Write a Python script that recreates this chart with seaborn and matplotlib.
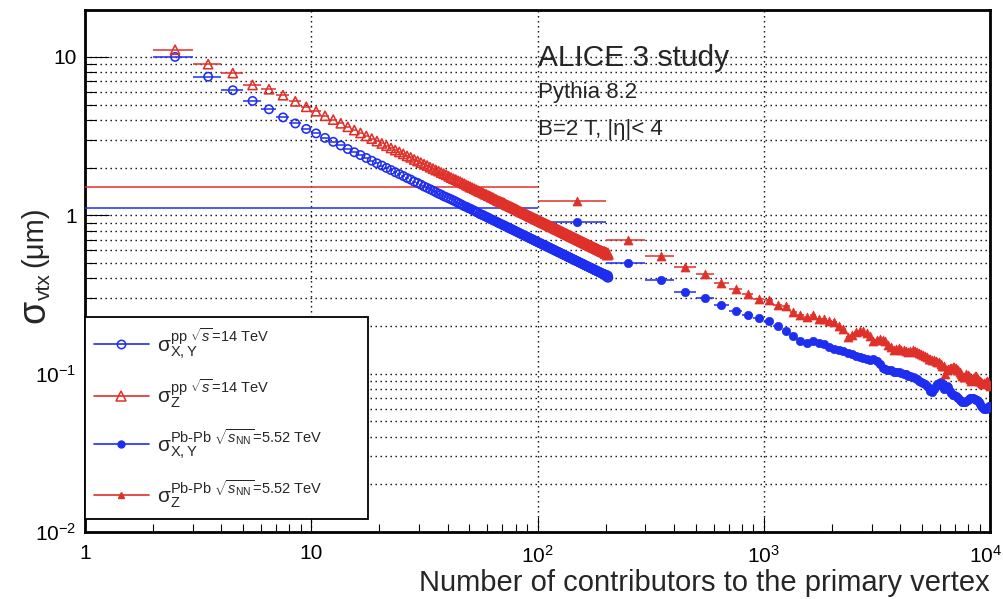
import numpy as np
import pandas as pd
import seaborn as sns
import matplotlib
matplotlib.use("Agg")
import matplotlib.pyplot as plt
import matplotlib.transforms as mtransforms
from matplotlib.lines import Line2D
from matplotlib.ticker import LogLocator, NullFormatter, FixedLocator, FixedFormatter

# ---------------------------------------------------------------- data
# pp: one bin per number of contributors, lower edges 2 ... 205 (width 1)
pp_bin_low = list(range(2, 206))
pp_sigma_xy = [
    10.0, 7.50, 6.16, 5.27, 4.67, 4.15, 3.80, 3.51, 3.29, 3.08,
    2.91, 2.76, 2.62, 2.50, 2.40, 2.30, 2.21, 2.13, 2.06, 1.99,
    1.93, 1.87, 1.82, 1.77, 1.72, 1.68, 1.63, 1.60, 1.56, 1.52,
    1.49, 1.46, 1.43, 1.40, 1.37, 1.35, 1.32, 1.30, 1.28, 1.26,
    1.24, 1.22, 1.20, 1.18, 1.16, 1.14, 1.13, 1.11, 1.10, 1.08,
    1.07, 1.05, 1.04, 1.02, 1.01, 1.00, 0.987, 0.976, 0.965, 0.953,
    0.942, 0.932, 0.922, 0.912, 0.902, 0.893, 0.884, 0.875, 0.867, 0.859,
    0.850, 0.842, 0.834, 0.826, 0.819, 0.811, 0.804, 0.797, 0.790, 0.783,
    0.776, 0.770, 0.763, 0.757, 0.751, 0.745, 0.739, 0.733, 0.728, 0.722,
    0.716, 0.711, 0.706, 0.701, 0.695, 0.690, 0.686, 0.681, 0.676, 0.671,
    0.667, 0.662, 0.658, 0.654, 0.649, 0.645, 0.641, 0.637, 0.633, 0.629,
    0.625, 0.621, 0.618, 0.614, 0.610, 0.607, 0.603, 0.599, 0.596, 0.592,
    0.589, 0.586, 0.583, 0.579, 0.576, 0.573, 0.570, 0.567, 0.563, 0.560,
    0.558, 0.555, 0.552, 0.549, 0.546, 0.543, 0.541, 0.538, 0.535, 0.532,
    0.530, 0.527, 0.525, 0.522, 0.520, 0.517, 0.515, 0.512, 0.510, 0.508,
    0.505, 0.503, 0.501, 0.499, 0.496, 0.494, 0.492, 0.490, 0.487, 0.485,
    0.483, 0.481, 0.479, 0.477, 0.475, 0.473, 0.471, 0.469, 0.467, 0.465,
    0.464, 0.462, 0.460, 0.458, 0.456, 0.454, 0.453, 0.451, 0.449, 0.447,
    0.446, 0.444, 0.442, 0.441, 0.439, 0.437, 0.436, 0.434, 0.432, 0.431,
    0.429, 0.428, 0.426, 0.425, 0.426, 0.422, 0.420, 0.414, 0.417, 0.420,
    0.414, 0.405, 0.416, 0.404,
]
pp_sigma_z = [
    11.1, 9.00, 7.90, 6.65, 6.25, 5.73, 5.24, 4.84, 4.54, 4.25,
    4.02, 3.81, 3.62, 3.45, 3.31, 3.17, 3.05, 2.94, 2.84, 2.75,
    2.66, 2.58, 2.51, 2.44, 2.37, 2.32, 2.25, 2.20, 2.15, 2.10,
    2.06, 2.01, 1.97, 1.93, 1.90, 1.86, 1.83, 1.80, 1.76, 1.73,
    1.70, 1.68, 1.65, 1.63, 1.60, 1.58, 1.55, 1.53, 1.51, 1.49,
    1.47, 1.45, 1.43, 1.41, 1.40, 1.38, 1.36, 1.35, 1.33, 1.32,
    1.30, 1.29, 1.27, 1.26, 1.24, 1.23, 1.22, 1.21, 1.20, 1.19,
    1.17, 1.16, 1.15, 1.14, 1.13, 1.12, 1.11, 1.10, 1.09, 1.08,
    1.07, 1.06, 1.05, 1.045, 1.036, 1.028, 1.020, 1.012, 1.005, 0.996,
    0.988, 0.981, 0.974, 0.967, 0.959, 0.952, 0.947, 0.940, 0.933, 0.926,
    0.920, 0.914, 0.908, 0.903, 0.896, 0.890, 0.885, 0.879, 0.874, 0.868,
    0.863, 0.857, 0.853, 0.847, 0.842, 0.838, 0.832, 0.827, 0.822, 0.817,
    0.813, 0.809, 0.805, 0.799, 0.795, 0.791, 0.787, 0.782, 0.777, 0.773,
    0.770, 0.766, 0.762, 0.758, 0.753, 0.749, 0.747, 0.742, 0.738, 0.734,
    0.731, 0.727, 0.725, 0.720, 0.718, 0.713, 0.711, 0.707, 0.704, 0.701,
    0.697, 0.694, 0.691, 0.689, 0.684, 0.682, 0.679, 0.676, 0.672, 0.669,
    0.667, 0.664, 0.661, 0.658, 0.656, 0.653, 0.650, 0.647, 0.644, 0.642,
    0.640, 0.638, 0.635, 0.632, 0.629, 0.627, 0.625, 0.622, 0.620, 0.617,
    0.615, 0.613, 0.610, 0.609, 0.606, 0.603, 0.602, 0.599, 0.596, 0.595,
    0.592, 0.591, 0.588, 0.587, 0.584, 0.590, 0.580, 0.572, 0.585, 0.574,
    0.571, 0.560, 0.578, 0.566,
]

# Pb-Pb: bins of 100 contributors, lower edges 0 ... 9900
pbpb_bin_low = list(range(0, 10000, 100))
pbpb_sigma_xy = [
    1.11, 0.91, 0.497, 0.39, 0.33, 0.30, 0.27, 0.25, 0.236, 0.224,
    0.214, 0.199, 0.187, 0.174, 0.160, 0.157, 0.160, 0.156, 0.153, 0.147,
    0.143, 0.141, 0.138, 0.135, 0.133, 0.130, 0.127, 0.125, 0.124, 0.122,
    0.124, 0.120, 0.115, 0.109, 0.107, 0.106, 0.105, 0.103, 0.103, 0.102,
    0.101, 0.0995, 0.099, 0.097, 0.0965, 0.095, 0.0945, 0.092, 0.0904, 0.089,
    0.087, 0.086, 0.083, 0.081, 0.078, 0.0762, 0.080, 0.084, 0.086, 0.087,
    0.088, 0.083, 0.080, 0.081, 0.083, 0.082, 0.078, 0.075, 0.0736, 0.073,
    0.072, 0.0715, 0.070, 0.068, 0.067, 0.066, 0.066, 0.0665, 0.0668, 0.068,
    0.069, 0.070, 0.0702, 0.070, 0.0702, 0.069, 0.068, 0.068, 0.067, 0.066,
    0.064, 0.062, 0.0618, 0.061, 0.060, 0.0598, 0.0605, 0.061, 0.062, 0.0627,
]
pbpb_sigma_z = [
    1.50, 1.23, 0.695, 0.55, 0.47, 0.428, 0.375, 0.34, 0.319, 0.297,
    0.29, 0.272, 0.267, 0.244, 0.236, 0.227, 0.233, 0.220, 0.220, 0.216,
    0.211, 0.201, 0.190, 0.170, 0.175, 0.183, 0.187, 0.185, 0.180, 0.172,
    0.160, 0.164, 0.166, 0.163, 0.160, 0.152, 0.148, 0.142, 0.144, 0.145,
    0.142, 0.140, 0.139, 0.137, 0.138, 0.140, 0.139, 0.136, 0.134, 0.133,
    0.131, 0.130, 0.127, 0.124, 0.123, 0.122, 0.122, 0.120, 0.119, 0.118,
    0.115, 0.112, 0.111, 0.100, 0.105, 0.107, 0.108, 0.109, 0.110, 0.110,
    0.108, 0.106, 0.105, 0.102, 0.099, 0.097, 0.095, 0.0948, 0.099, 0.098,
    0.096, 0.093, 0.090, 0.092, 0.094, 0.0965, 0.0968, 0.094, 0.092, 0.090,
    0.090, 0.088, 0.087, 0.086, 0.087, 0.089, 0.090, 0.088, 0.086, 0.084,
]

x_tick_values = [1, 10, 100, 1000, 10000]
x_tick_labels = ["1", "10", r"$10^{2}$", r"$10^{3}$", r"$10^{4}$"]
y_tick_values = [0.01, 0.1, 1, 10]
y_tick_labels = [r"$10^{-2}$", r"$10^{-1}$", "1", "10"]

legend_labels = [
    r"$\mathrm{σ}^{\mathrm{pp}\ \sqrt{s}\!=\!\mathrm{14\ TeV}}_{\mathrm{X,Y}}$",
    r"$\mathrm{σ}^{\mathrm{pp}\ \sqrt{s}\!=\!\mathrm{14\ TeV}}_{\mathrm{Z}}$",
    r"$\mathrm{σ}^{\mathrm{Pb‐Pb}\ \sqrt{s_{\mathrm{NN}}}\!=\!\mathrm{5.52\ TeV}}_{\mathrm{X,Y}}$",
    r"$\mathrm{σ}^{\mathrm{Pb‐Pb}\ \sqrt{s_{\mathrm{NN}}}\!=\!\mathrm{5.52\ TeV}}_{\mathrm{Z}}$",
]

# ---------------------------------------------------------------- style
sns.set_style("ticks")
plt.rcParams.update({
    "font.family": ["Liberation Sans", "DejaVu Sans"],
    "mathtext.fontset": "custom",
    "mathtext.rm": "Liberation Sans",
    "mathtext.it": "Liberation Sans:italic",
    "mathtext.bf": "Liberation Sans:bold",
    "axes.linewidth": 2.0,
    "axes.edgecolor": "black",
})

BLUE = "#1e2ef0"
RED = "#e0302a"

pp = pd.DataFrame({
    "low": pp_bin_low,
    "sxy": pp_sigma_xy,
    "sz": pp_sigma_z,
})
pp["high"] = pp["low"] + 1
pp["n"] = (pp["low"] + pp["high"]) / 2

pb = pd.DataFrame({
    "low": pbpb_bin_low,
    "sxy": pbpb_sigma_xy,
    "sz": pbpb_sigma_z,
})
pb["high"] = pb["low"] + 100
pb["n"] = (pb["low"] + pb["high"]) / 2

fig = plt.figure(figsize=(10.04, 5.99), dpi=100)
ax = fig.add_axes([0.0847, 0.1119, 0.9014, 0.8715])
ax.set_xscale("log", nonpositive="clip")
ax.set_yscale("log", nonpositive="clip")

# bin-width bars
lw_bar = 1.1
ax.hlines(pp["sxy"], pp["low"], pp["high"], color=BLUE, lw=lw_bar, zorder=3)
ax.hlines(pp["sz"], pp["low"], pp["high"], color=RED, lw=lw_bar, zorder=3)
ax.hlines(pb["sxy"], pb["low"], pb["high"], color=BLUE, lw=lw_bar, zorder=4)
ax.hlines(pb["sz"], pb["low"], pb["high"], color=RED, lw=lw_bar, zorder=4)

# markers
sns.scatterplot(data=pp, x="n", y="sxy", ax=ax, marker="o", s=36,
                color=BLUE, facecolor="none", edgecolor=BLUE, linewidth=1.15,
                zorder=5, legend=False)
sns.scatterplot(data=pp, x="n", y="sz", ax=ax, marker="^", s=44,
                color=RED, facecolor="none", edgecolor=RED, linewidth=1.15,
                zorder=5, legend=False)
sns.scatterplot(data=pb, x="n", y="sxy", ax=ax, marker="o", s=36,
                color=BLUE, edgecolor=BLUE, linewidth=0.5, zorder=6, legend=False)
sns.scatterplot(data=pb, x="n", y="sz", ax=ax, marker="^", s=42,
                color=RED, edgecolor=RED, linewidth=0.5, zorder=6, legend=False)

ax.set_xlim(1, 1e4)
ax.set_ylim(0.01, 19.8)

# ticks
ax.xaxis.set_major_locator(FixedLocator(x_tick_values))
ax.xaxis.set_major_formatter(FixedFormatter(x_tick_labels))
ax.yaxis.set_major_locator(FixedLocator(y_tick_values))
ax.yaxis.set_major_formatter(FixedFormatter(y_tick_labels))
ax.xaxis.set_minor_locator(LogLocator(base=10, subs=np.arange(2, 10), numticks=20))
ax.yaxis.set_minor_locator(LogLocator(base=10, subs=np.arange(2, 10), numticks=20))
ax.xaxis.set_minor_formatter(NullFormatter())
ax.yaxis.set_minor_formatter(NullFormatter())
ax.tick_params(axis="both", which="both", direction="in", width=0.8,
               colors="black", labelsize=15, top=False, right=False)
ax.tick_params(axis="x", which="major", length=11, pad=9)
ax.tick_params(axis="x", which="minor", length=5.5)
ax.tick_params(axis="y", which="major", length=17, pad=6)
ax.tick_params(axis="y", which="minor", length=8)

# the last x label sits at the right edge of the canvas; nudge it inwards
fig.canvas.draw()
last = ax.get_xticklabels()[-1]
last.set_transform(last.get_transform() +
                   mtransforms.ScaledTranslation(-4 / 100, 0, fig.dpi_scale_trans))

grid_style = dict(color="black", linestyle=(0, (1, 2.6)), linewidth=1.0)
ax.yaxis.grid(True, which="both", **grid_style)
ax.xaxis.grid(True, which="major", **grid_style)
ax.set_axisbelow(True)

ax.set_xlabel("Number of contributors to the primary vertex", fontsize=21,
              loc="right", labelpad=2)
ax.set_ylabel("")

# y title: a large sigma followed by the subscript and the unit
fig.text(0.034, 0.480, "σ", rotation=90, fontsize=27,
         ha="center", va="center")
fig.text(0.044, 0.521, "vtx", rotation=90, fontsize=15,
         ha="center", va="center")
fig.text(0.034, 0.604, "(μm)", rotation=90, fontsize=21,
         ha="center", va="center")

# annotations
fig.text(0.536, 0.8898, "ALICE 3 study", fontsize=21.5, va="baseline")
fig.text(0.536, 0.8369, "Pythia 8.2", fontsize=16, va="baseline")
fig.text(0.536, 0.7746, "B=2 T, |η|< 4", fontsize=16, va="baseline")

handles = [
    Line2D([], [], color=BLUE, lw=1.2, marker="o", ms=6, mfc="none", mec=BLUE, mew=1.1),
    Line2D([], [], color=RED, lw=1.2, marker="^", ms=6.5, mfc="none", mec=RED, mew=1.1),
    Line2D([], [], color=BLUE, lw=1.2, marker="o", ms=5, mfc=BLUE, mec=BLUE),
    Line2D([], [], color=RED, lw=1.2, marker="^", ms=5, mfc=RED, mec=RED),
]
leg = ax.legend(handles, legend_labels, loc="lower left",
                bbox_to_anchor=(0.0, 0.025, 0.313, 0.387), mode="expand",
                borderaxespad=0, frameon=True, fancybox=False, fontsize=15,
                handlelength=2.6, handletextpad=0.4, labelspacing=0.8,
                borderpad=0.45, numpoints=1)
leg.get_frame().set_edgecolor("black")
leg.get_frame().set_linewidth(1.3)
leg.get_frame().set_alpha(1)
leg.set_zorder(10)

fig.savefig("out.png", dpi=100)
